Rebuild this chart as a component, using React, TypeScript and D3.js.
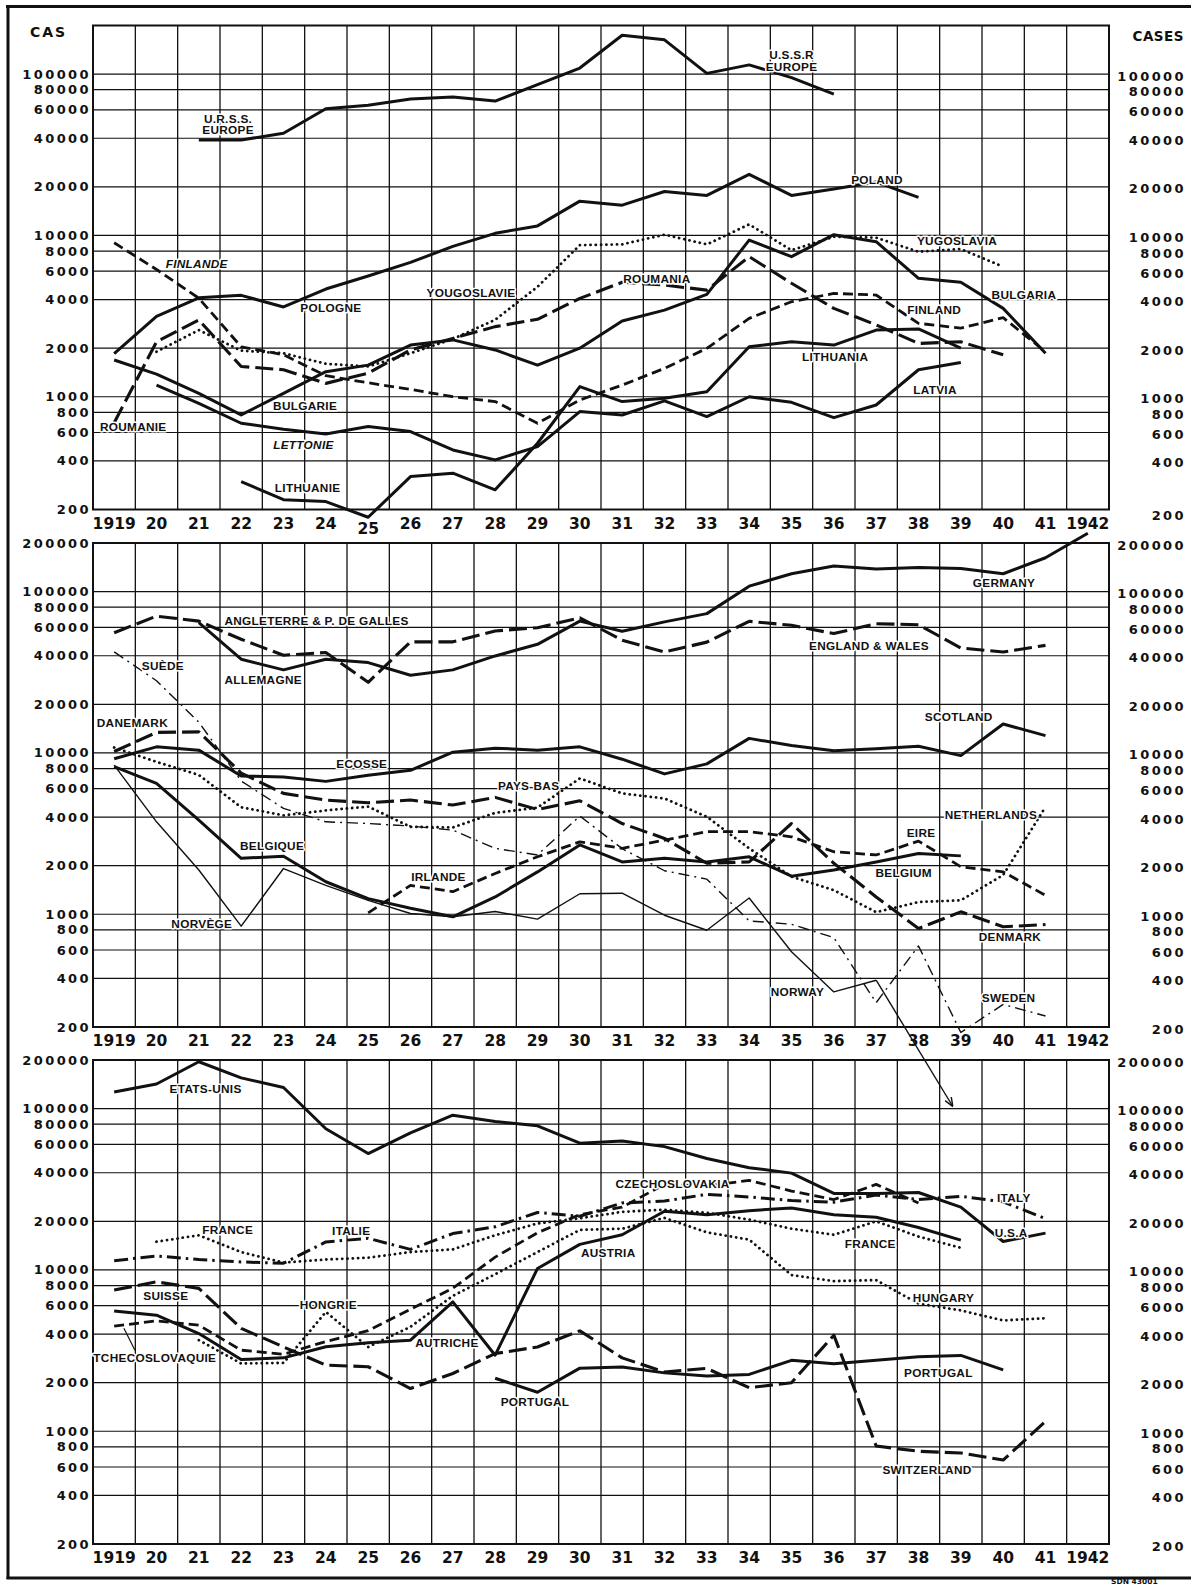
import React from 'react';
import * as d3 from 'd3';

const W = 1191;
const H = 1587;

// years along the bottom of every panel
const years = d3.range(1919, 1943);
const yearText = years.map(y => (y === 1919 || y === 1942 ? String(y) : String(y).slice(2)));

// horizontal rulings and tick labels (cases, log scale)
const gridValues = [400, 600, 800, 1000, 2000, 4000, 6000, 8000, 10000, 20000, 40000, 60000, 80000, 100000];
const tickValues = [200, 400, 600, 800, 1000, 2000, 4000, 6000, 8000, 10000, 20000, 40000, 60000, 80000, 100000];

// ---- panel 1 : eastern Europe ----
const ussr = [39000, 39000, 43000, 61000, 64000, 70000, 72000, 68000, 86000, 109000, 174000, 163000, 101000, 114000, 95000, 75000]; // 1921-36
const poland = [1850, 3150, 4100, 4250, 3600, 4650, 5600, 6800, 8550, 10300, 11450, 16300, 15400, 18700, 17700, 23900, 17700, 19400, 21400, 17200]; // 1919-38
const yugoslavia = [1900, 2590, 1930, 1860, 1600, 1540, 1860, 2280, 3000, 4800, 8700, 8800, 10100, 8800, 11700, 8100, 9800, 9680, 7920, 8230, 6400]; // 1920-40
const finland = [9000, 6150, 4080, 2040, 1820, 1350, 1220, 1110, 1000, 933, 685, 955, 1180, 1500, 1995, 3060, 3880, 4370, 4270, 2850, 2660, 3090, 1900]; // 1919-41
const roumania = [690, 2190, 2990, 1540, 1470, 1210, 1400, 1950, 2300, 2720, 3020, 4070, 5120, 4920, 4580, 7380, 5050, 3530, 2790, 2140, 2190, 1820]; // 1919-40
const bulgaria = [1690, 1380, 1050, 771, 1050, 1430, 1570, 2090, 2250, 1950, 1570, 2000, 2950, 3440, 4310, 9350, 7380, 10100, 9140, 5420, 5120, 3530, 1860]; // 1919-41
const latvia = [1180, 910, 685, 629, 588, 653, 608, 468, 406, 491, 809, 771, 942, 753, 1000, 923, 742, 889, 1470, 1630]; // 1920-39
const lithuania = [298, 230, 224, 179, 320, 336, 265, 515, 1155, 933, 978, 1075, 2040, 2190, 2090, 2590, 2630, 2000]; // 1922-39

// ---- panel 2 : western and northern Europe ----
const germany = [64100, 38100, 32700, 38100, 36300, 30300, 32700, 39900, 47100, 65600, 56700, 64900, 73000, 108000, 129000, 144000, 138000, 141000, 139000, 129000, 162000, 230000]; // 1921-42
const england = [55600, 70400, 65600, 50600, 40300, 41900, 27400, 48800, 48800, 57000, 59700, 68800, 49900, 42200, 48600, 65400, 61800, 54900, 63200, 62300, 44700, 42200, 46400]; // 1919-41
const scotland = [9200, 10900, 10400, 7190, 7090, 6660, 7260, 7800, 10100, 10700, 10400, 10900, 9140, 7410, 8550, 12300, 11100, 10300, 10600, 11000, 9620, 15100, 12800]; // 1919-41
const denmark = [10200, 13400, 13500, 7500, 5610, 5100, 4910, 5100, 4750, 5300, 4460, 5050, 3650, 2950, 2070, 2110, 3650, 2070, 1280, 816, 1035, 836, 863]; // 1919-41
const netherlands = [10800, 8800, 7300, 4600, 4100, 4400, 4650, 3480, 3450, 4250, 4580, 6950, 5610, 5220, 4020, 2560, 1710, 1410, 1030, 1190, 1220, 1750, 4630]; // 1919-41
const belgium = [8230, 6480, 3830, 2220, 2290, 1590, 1250, 1090, 964, 1280, 1830, 2690, 2110, 2220, 2110, 2270, 1720, 1880, 2110, 2380, 2300]; // 1919-39
const eire = [1020, 1510, 1380, 1790, 2270, 2810, 2560, 2880, 3250, 3250, 3020, 2440, 2330, 2840, 1970, 1830, 1310]; // 1925-41
const sweden = [42300, 28000, 15500, 6700, 4530, 3740, 3650, 3520, 3320, 2560, 2330, 4060, 2550, 1860, 1650, 909, 867, 716, 283, 636, 185, 276, 234]; // 1919-41
const norway = [8400, 3740, 1880, 843, 1920, 1510, 1220, 1010, 964, 1040, 932, 1340, 1350, 986, 796, 1260, 585, 330, 390]; // 1919-37
const norwayArrow = [1938.8, 65]; // line runs off the scale after 1937

// ---- panel 3 : central / southern Europe and U.S.A. ----
const usa = [126700, 142000, 195000, 155000, 135000, 75000, 52600, 70600, 91000, 83100, 78200, 61000, 63000, 58100, 49000, 43000, 39800, 29800, 29800, 30200, 24500, 15000, 16900]; // 1919-41
const italy = [11400, 12200, 11600, 11200, 11000, 14900, 15700, 13400, 16800, 18500, 22700, 21500, 26000, 26700, 29400, 28300, 26900, 26300, 29100, 27300, 28600, 26400, 20800]; // 1919-41
const france = [14950, 16400, 12900, 11100, 11600, 11900, 12900, 13400, 16400, 19400, 20900, 22900, 23600, 22600, 20500, 18000, 16500, 20000, 16100, 13700]; // 1920-39
const hungary = [3670, 2630, 2650, 5490, 3330, 4440, 6900, 9400, 12900, 17700, 18000, 21000, 17100, 15400, 9290, 8520, 8640, 6180, 5610, 4860, 5020]; // 1921-41
const switzerland = [7500, 8430, 7680, 4340, 3330, 2570, 2510, 1840, 2280, 3030, 3330, 4190, 2850, 2330, 2450, 1860, 2000, 3940, 810, 751, 733, 663, 1150]; // 1919-41
const czechoslovakia = [4480, 4830, 4540, 3180, 3000, 3600, 4200, 5700, 7700, 12000, 17000, 22000, 24500, 33900, 33100, 35900, 30800, 27300, 33900, 26000]; // 1919-38
const austria = [5570, 5240, 4030, 2780, 2850, 3340, 3530, 3670, 6340, 2960, 10200, 14400, 16500, 23100, 22000, 23300, 24200, 22000, 21200, 18300, 15300]; // 1919-39
const portugal = [2130, 1745, 2460, 2500, 2300, 2200, 2250, 2750, 2620, 2750, 2900, 2950, 2400]; // 1928-40

const lineStyles = {
  solid: { width: 3, dash: undefined, cap: 'butt' },
  thin: { width: 1.4, dash: undefined, cap: 'butt' },
  dotted: { width: 2.8, dash: '0.1 5.2', cap: 'round' },
  dashed: { width: 2.8, dash: '10 5', cap: 'butt' },
  longdash: { width: 3.1, dash: '18 6', cap: 'butt' },
  dashdot: { width: 3, dash: '14 5 2.5 5', cap: 'butt' },
  thindashdot: { width: 1.4, dash: '11 5 2 5', cap: 'butt' },
};

type Style = keyof typeof lineStyles;
type Series = { start: number; values: number[]; style: Style };
type Label = { t: string | string[]; yr: number; v: number; it?: boolean };

const panel1Series: Series[] = [
  { start: 1921, values: ussr, style: 'solid' },
  { start: 1919, values: poland, style: 'solid' },
  { start: 1920, values: yugoslavia, style: 'dotted' },
  { start: 1919, values: finland, style: 'dashed' },
  { start: 1919, values: roumania, style: 'longdash' },
  { start: 1919, values: bulgaria, style: 'solid' },
  { start: 1920, values: latvia, style: 'solid' },
  { start: 1922, values: lithuania, style: 'solid' },
];
const panel2Series: Series[] = [
  { start: 1921, values: germany, style: 'solid' },
  { start: 1919, values: england, style: 'longdash' },
  { start: 1919, values: scotland, style: 'solid' },
  { start: 1919, values: denmark, style: 'longdash' },
  { start: 1919, values: netherlands, style: 'dotted' },
  { start: 1919, values: belgium, style: 'solid' },
  { start: 1925, values: eire, style: 'dashed' },
  { start: 1919, values: sweden, style: 'thindashdot' },
  { start: 1919, values: norway, style: 'thin' },
];
const panel3Series: Series[] = [
  { start: 1919, values: usa, style: 'solid' },
  { start: 1919, values: italy, style: 'dashdot' },
  { start: 1920, values: france, style: 'dotted' },
  { start: 1921, values: hungary, style: 'dotted' },
  { start: 1919, values: switzerland, style: 'longdash' },
  { start: 1919, values: czechoslovakia, style: 'dashed' },
  { start: 1919, values: austria, style: 'solid' },
  { start: 1928, values: portugal, style: 'solid' },
];

const panel1Labels: Label[] = [
  { t: ['U.R.S.S.', 'EUROPE'], yr: 1921.69, v: 53000 },
  { t: ['U.S.S.R', 'EUROPE'], yr: 1935.0, v: 131000 },
  { t: 'POLAND', yr: 1937.02, v: 22000 },
  { t: 'FINLANDE', yr: 1920.95, v: 6650, it: true },
  { t: 'POLOGNE', yr: 1924.12, v: 3550 },
  { t: 'YOUGOSLAVIE', yr: 1927.43, v: 4400 },
  { t: 'ROUMANIA', yr: 1931.82, v: 5370 },
  { t: 'YUGOSLAVIA', yr: 1938.91, v: 9230 },
  { t: 'BULGARIA', yr: 1940.49, v: 4280 },
  { t: 'FINLAND', yr: 1938.37, v: 3440 },
  { t: 'LITHUANIA', yr: 1936.03, v: 1770 },
  { t: 'LATVIA', yr: 1938.39, v: 1100 },
  { t: 'ROUMANIE', yr: 1919.45, v: 650 },
  { t: 'BULGARIE', yr: 1923.51, v: 877 },
  { t: 'LETTONIE', yr: 1923.47, v: 502, it: true },
  { t: 'LITHUANIE', yr: 1923.57, v: 272 },
];
const panel2Labels: Label[] = [
  { t: 'ANGLETERRE & P. DE GALLES', yr: 1923.78, v: 65800 },
  { t: 'SUÈDE', yr: 1920.15, v: 34600 },
  { t: 'ALLEMAGNE', yr: 1922.52, v: 28300 },
  { t: 'DANEMARK', yr: 1919.43, v: 15400 },
  { t: 'ECOSSE', yr: 1924.85, v: 8530 },
  { t: 'PAYS-BAS', yr: 1928.79, v: 6240 },
  { t: 'BELGIQUE', yr: 1922.73, v: 2650 },
  { t: 'IRLANDE', yr: 1926.66, v: 1700 },
  { t: 'NORVÈGE', yr: 1921.07, v: 869 },
  { t: 'GERMANY', yr: 1940.02, v: 113000 },
  { t: 'ENGLAND & WALES', yr: 1936.83, v: 46000 },
  { t: 'SCOTLAND', yr: 1938.95, v: 16700 },
  { t: 'NETHERLANDS', yr: 1939.71, v: 4120 },
  { t: 'EIRE', yr: 1938.06, v: 3190 },
  { t: 'BELGIUM', yr: 1937.65, v: 1800 },
  { t: 'DENMARK', yr: 1940.16, v: 721 },
  { t: 'NORWAY', yr: 1935.14, v: 330 },
  { t: 'SWEDEN', yr: 1940.13, v: 302 },
];
const panel3Labels: Label[] = [
  { t: 'ETATS-UNIS', yr: 1921.16, v: 133000 },
  { t: 'FRANCE', yr: 1921.68, v: 17700 },
  { t: 'ITALIE', yr: 1924.6, v: 17400 },
  { t: 'SUISSE', yr: 1920.22, v: 6890 },
  { t: 'HONGRIE', yr: 1924.06, v: 6050 },
  { t: 'TCHECOSLOVAQUIE', yr: 1919.96, v: 2830 },
  { t: 'AUTRICHE', yr: 1926.86, v: 3510 },
  { t: 'PORTUGAL', yr: 1928.94, v: 1510 },
  { t: 'CZECHOSLOVAKIA', yr: 1932.19, v: 34100 },
  { t: 'ITALY', yr: 1940.25, v: 27900 },
  { t: 'U.S.A', yr: 1940.19, v: 16900 },
  { t: 'AUSTRIA', yr: 1930.67, v: 12700 },
  { t: 'FRANCE', yr: 1936.86, v: 14500 },
  { t: 'HUNGARY', yr: 1938.59, v: 6690 },
  { t: 'PORTUGAL', yr: 1938.47, v: 2290 },
  { t: 'SWITZERLAND', yr: 1938.2, v: 571 },
];
// pointer from "TCHECOSLOVAQUIE" to its line
const czechPointer = [[1919.49, 3180], [1919.23, 4350]];

const panels = [
  { top: 25.5, series: panel1Series, labels: panel1Labels, top200k: false },
  { top: 543, series: panel2Series, labels: panel2Labels, top200k: true },
  { top: 1060, series: panel3Series, labels: panel3Labels, top200k: true },
];
const panelH = 484;

const INK = '#111';
const labelFont = '"Liberation Sans", Arial, sans-serif';
const tickFont = '"DejaVu Sans", Verdana, sans-serif';

const x = d3.scaleLinear().domain([1918.5, 1942.5]).range([93, 1109]);

function Panel({ idx }: { idx: number }) {
  const p = panels[idx];
  const y = d3.scaleLog().domain([200, 200000]).range([p.top + panelH, p.top]);
  const line = d3.line<[number, number]>().x(d => x(d[0])).y(d => y(d[1]));
  const ticks = p.top200k ? [...tickValues, 200000] : tickValues;
  const bottom = p.top + panelH;
  return (
    <g>
      {/* vertical rulings */}
      {d3.range(1919, 1943).map(yr => (
        <line key={'v' + yr} x1={x(yr - 0.5)} x2={x(yr - 0.5)} y1={p.top} y2={bottom} stroke={INK} strokeWidth={1.3} />
      ))}
      {gridValues.map(v => (
        <line key={'h' + v} x1={x.range()[0]} x2={x.range()[1]} y1={y(v)} y2={y(v)} stroke={INK} strokeWidth={1.2} />
      ))}
      <rect x={x.range()[0]} y={p.top} width={x.range()[1] - x.range()[0]} height={panelH} fill="none" stroke={INK} strokeWidth={2} />
      {/* tick labels both sides */}
      {ticks.map(v => (
        <g key={'t' + v} fontFamily={tickFont} fontWeight="bold" fontSize={13} letterSpacing={2.4} fill={INK}>
          <text x={91} y={y(v)} textAnchor="end" dominantBaseline="central">{v}</text>
          <text x={1186} y={y(v) + (idx === 0 && v === 200 ? 6 : 2)} textAnchor="end" dominantBaseline="central">{v}</text>
        </g>
      ))}
      {/* year row under the panel */}
      {years.map((yr, i) => (
        <text key={'y' + yr} x={x(yr)} y={bottom + 14 + (idx === 0 && yr === 1925 ? 5 : 0)} textAnchor="middle" dominantBaseline="central"
          fontFamily={tickFont} fontWeight="bold" fontSize={15.5} fill={INK}>{yearText[i]}</text>
      ))}
      {/* series */}
      {p.series.map((s, i) => {
        const st = lineStyles[s.style];
        const pts = s.values.map((v, j) => [s.start + j, v] as [number, number]);
        return (
          <path key={'s' + i} d={line(pts) || ''} fill="none" stroke={INK} strokeWidth={st.width}
            strokeDasharray={st.dash} strokeLinecap={st.cap as any} strokeLinejoin="round" />
        );
      })}
      {idx === 1 && (
        <path d={line([[1937, norway[norway.length - 1]], norwayArrow as [number, number]]) || ''} fill="none"
          stroke={INK} strokeWidth={1.4} markerEnd="url(#arrow)" />
      )}
      {idx === 2 && (
        <path d={line(czechPointer as [number, number][]) || ''} fill="none" stroke={INK} strokeWidth={1.2} />
      )}
      {/* labels */}
      {p.labels.map((l, i) => {
        const lines = Array.isArray(l.t) ? l.t : [l.t];
        return (
          <text key={'l' + i} x={x(l.yr)} y={y(l.v)} textAnchor="middle" dominantBaseline="central"
            fontFamily={labelFont} fontWeight="bold" fontSize={11.8} letterSpacing={0.3}
            fontStyle={l.it ? 'italic' : 'normal'} fill={INK}
            stroke="#fff" strokeWidth={3} paintOrder="stroke" strokeLinejoin="round">
            {lines.map((t, k) => (
              <tspan key={k} x={x(l.yr)} dy={k === 0 ? 0 : 11.5}>{t}</tspan>
            ))}
          </text>
        );
      })}
    </g>
  );
}

export default function App() {
  return (
    <svg width={W} height={H} viewBox={`0 0 ${W} ${H}`}
      style={{ position: 'absolute', left: 0, top: 0, background: '#fff' }}>
      <defs>
        <marker id="arrow" viewBox="0 0 10 10" refX="9" refY="5" markerWidth="9" markerHeight="9" orient="auto" markerUnits="userSpaceOnUse">
          <path d="M0,1 L10,5 L0,9" fill="none" stroke={INK} strokeWidth={1.6} />
        </marker>
      </defs>
      <rect width={W} height={H} fill="#fff" />
      {/* outer frame */}
      <line x1={6} x2={W} y1={6.5} y2={6.5} stroke={INK} strokeWidth={3} />
      <line x1={8} x2={8} y1={5} y2={1579} stroke={INK} strokeWidth={3} />
      <line x1={6.5} x2={W} y1={1578} y2={1578} stroke={INK} strokeWidth={3} />
      <text x={30} y={32} fontFamily={tickFont} fontWeight="bold" fontSize={14} letterSpacing={2} fill={INK} dominantBaseline="central">CAS</text>
      <text x={1184} y={36} textAnchor="end" fontFamily={tickFont} fontWeight="bold" fontSize={13.5} letterSpacing={0.5} fill={INK} dominantBaseline="central">CASES</text>
      {panels.map((_, i) => <Panel key={i} idx={i} />)}
      <text x={1111} y={1581} fontFamily={tickFont} fontWeight="bold" fontSize={7.5} fill={INK} dominantBaseline="central">SDN 43001</text>
    </svg>
  );
}
